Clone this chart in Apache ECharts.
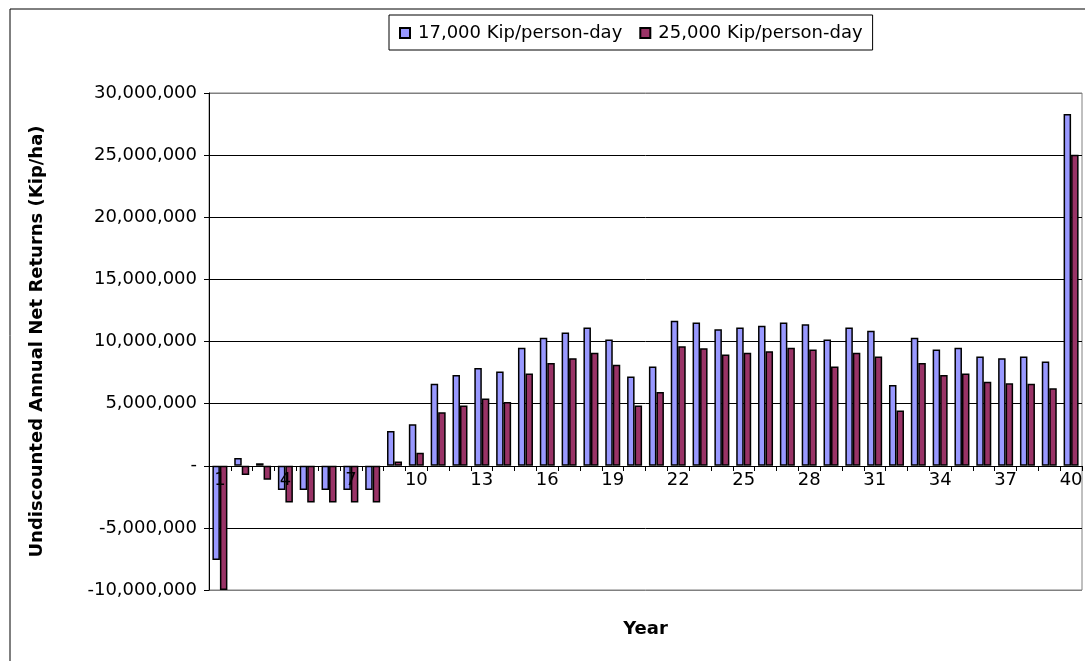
<!DOCTYPE html>
<html>
<head>
<meta charset="utf-8">
<script src="https://cdn.jsdelivr.net/npm/echarts@6/dist/echarts.min.js"></script>
<style>
  html, body { margin: 0; padding: 0; background: #fff; }
  #chart { width: 1085px; height: 661px; }
</style>
</head>
<body>
<div id="chart"></div>
<script>
// years 1..40
var years = ['1','2','3','4','5','6','7','8','9','10','11','12','13','14','15','16','17','18','19','20',
  '21','22','23','24','25','26','27','28','29','30','31','32','33','34','35','36','37','38','39','40']

// 17,000 Kip/person-day
var low = [-7580000, 630000, 200000, -1960000, -1960000, -1960000, -1960000, -1960000, 2800000, 3340000,
  6600000, 7300000, 7860000, 7590000, 9490000, 10300000, 10720000, 11120000, 10160000, 7190000,
  7990000, 11660000, 11520000, 10990000, 11120000, 11260000, 11520000, 11390000, 10160000, 11120000,
  10860000, 6490000, 10300000, 9360000, 9490000, 8800000, 8660000, 8800000, 8400000, 28300000]

// 25,000 Kip/person-day
var high = [-10000000, -750000, -1130000, -2950000, -2950000, -2950000, -2950000, -2950000, 350000, 1040000,
  4300000, 4840000, 5420000, 5130000, 7430000, 8260000, 8660000, 9090000, 8130000, 4840000,
  5930000, 9620000, 9460000, 8960000, 9090000, 9220000, 9490000, 9360000, 7990000, 9090000,
  8800000, 4440000, 8260000, 7300000, 7430000, 6760000, 6630000, 6600000, 6230000, 25030000]

var seriesNames = ['17,000 Kip/person-day', '25,000 Kip/person-day']

var font = 'DejaVu Sans, Arial, sans-serif'

// 0 is shown as "-" like the excel accounting format
function fmt(v) {
  if (v === 0) return '-'
  return v.toLocaleString('en-US')
}

var chart = echarts.init(document.getElementById('chart'))
chart.setOption({
  animation: false,
  textStyle: { fontFamily: font, color: '#000' },
  graphic: [{
    // outer chart border
    type: 'rect',
    shape: { x: 10, y: 9, width: 1100, height: 700 },
    style: { fill: 'none', stroke: '#000', lineWidth: 1 },
    silent: true
  }],
  legend: {
    data: seriesNames,
    left: 389,
    top: 15,
    padding: [9, 10, 8, 10],
    borderColor: '#000',
    borderWidth: 1,
    itemWidth: 10,
    itemHeight: 10,
    itemGap: 17,
    icon: 'rect',
    textStyle: { fontSize: 18, fontFamily: font, color: '#000', padding: [0, 0, 0, 3] }
  },
  grid: {
    left: 209,
    right: 3,
    top: 93,
    bottom: 71,
    outerBoundsMode: 'none',
    containLabel: false,
    show: true,
    borderColor: '#808080',
    borderWidth: 1
  },
  xAxis: {
    type: 'category',
    data: years,
    z: 5, // labels sit on top of the negative bars
    name: 'Year',
    nameLocation: 'middle',
    nameGap: 154,
    nameTextStyle: { fontSize: 18, fontWeight: 'bold', fontFamily: font, color: '#000' },
    position: 'bottom',
    offset: -124, // move the axis up to the zero line
    axisLine: { onZero: false, lineStyle: { color: '#000', width: 1 } },
    axisTick: { show: true, interval: 0, length: 5, lineStyle: { color: '#000' } },
    axisLabel: { interval: 2, fontSize: 18, margin: 5, color: '#000', fontFamily: font }
  },
  yAxis: {
    type: 'value',
    min: -10000000,
    max: 30000000,
    interval: 5000000,
    name: 'Undiscounted Annual Net Returns (Kip/ha)',
    nameLocation: 'middle',
    nameRotate: 90,
    nameGap: 163,
    nameTextStyle: { fontSize: 18, fontWeight: 'bold', fontFamily: font, color: '#000' },
    axisLine: { show: true, lineStyle: { color: '#000', width: 1 } },
    axisTick: { show: true, length: 5, lineStyle: { color: '#000' } },
    axisLabel: { formatter: fmt, fontSize: 18, margin: 12, color: '#000', fontFamily: font },
    splitLine: {
      show: true,
      lineStyle: { color: ['#808080', '#000', '#000', '#000', '#000', '#000', '#000', '#000', '#808080'], width: 1 }
    }
  },
  series: [{
    name: seriesNames[0],
    type: 'bar',
    data: low,
    barWidth: 7.5,
    barGap: '0%',
    itemStyle: { color: '#9999FF', borderColor: '#000', borderWidth: 1.5 }
  }, {
    name: seriesNames[1],
    type: 'bar',
    data: high,
    barWidth: 7.5,
    barGap: '0%',
    itemStyle: { color: '#993366', borderColor: '#000', borderWidth: 1.5 }
  }]
})
</script>
</body>
</html>
